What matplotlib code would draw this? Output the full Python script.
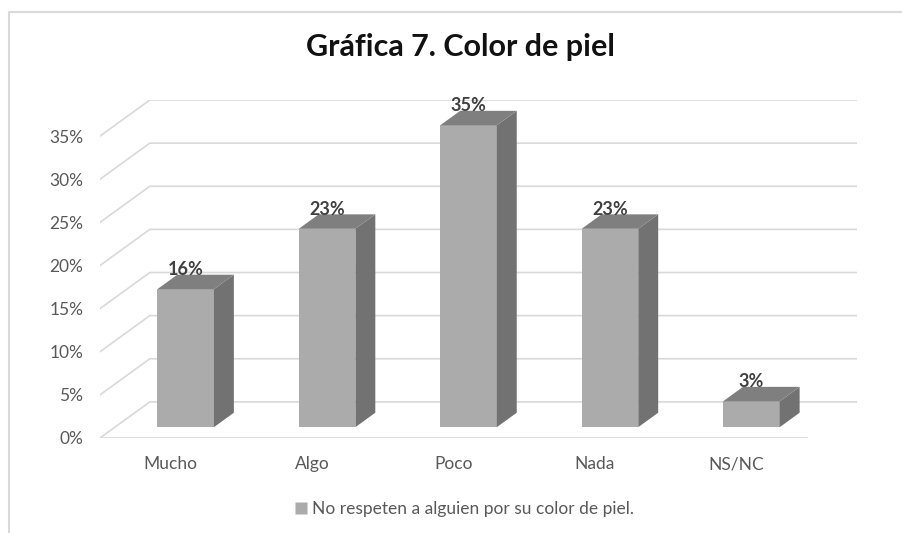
import matplotlib
matplotlib.use("Agg")
import matplotlib.pyplot as plt
from matplotlib.patches import Polygon
from matplotlib.lines import Line2D

# data
categories = ["Mucho", "Algo", "Poco", "Nada", "NS/NC"]
values = [16, 23, 35, 23, 3]
yticks = [0, 5, 10, 15, 20, 25, 30, 35]
series_name = "No respeten a alguien por su color de piel."
title = "Gráfica 7. Color de piel"

plt.rcParams['font.family'] = ['Lato', 'DejaVu Sans']

# oblique "3d" offsets in data units (x in categories, y in percent)
ddx = 50 / 142.0
ddy = 36 / 8.6
f0, f1 = 0.3, 0.7      # depth of the bar inside the floor
bw = 0.4               # bar width

front_col = "#ababab"
top_col = "#7f7f7f"
side_col = "#727272"
grid_col = "#d9d9d9"
text_col = "#595959"

W, H = 903, 533
fig = plt.figure(figsize=(W / 100, H / 100), dpi=100)
ax = fig.add_axes([100 / W, (H - 438) / H, 757 / W, 338 / H])
ax.set_xlim(0, len(categories) + ddx)
ax.set_ylim(0, max(yticks) + ddy)
for s in ax.spines.values():
    s.set_visible(False)

# back wall / floor grid
n = len(categories)
for v in yticks:
    ax.plot([0, ddx, n + ddx], [v, v + ddy, v + ddy], color=grid_col, lw=1.2, zorder=1)
ax.plot([0, n], [0, 0], color=grid_col, lw=1.2, zorder=1)

# bars
d = f1 - f0
for i, v in enumerate(values):
    xl = i + 0.5 - bw / 2 + f0 * ddx
    xr = xl + bw
    yb = f0 * ddy
    yt = yb + v
    ax.add_patch(Polygon([(xl, yb), (xr, yb), (xr, yt), (xl, yt)],
                         closed=True, fc=front_col, ec="none", zorder=3))
    ax.add_patch(Polygon([(xr, yb), (xr + d * ddx, yb + d * ddy),
                          (xr + d * ddx, yt + d * ddy), (xr, yt)],
                         closed=True, fc=side_col, ec="none", zorder=3))
    ax.add_patch(Polygon([(xl, yt), (xr, yt), (xr + d * ddx, yt + d * ddy),
                          (xl + d * ddx, yt + d * ddy)],
                         closed=True, fc=top_col, ec="none", zorder=3))
    ax.text((xl + xr) / 2, yt + d * ddy + 0.6, "%d%%" % v, ha="center", va="center",
            fontsize=13, fontweight="bold", color="#404040", zorder=4)

ax.set_yticks(yticks)
ax.set_yticklabels(["%d%%" % v for v in yticks])
ax.set_xticks([i + 0.5 for i in range(n)])
ax.set_xticklabels(categories)
ax.tick_params(axis="both", length=0, labelsize=12.5, labelcolor=text_col)
ax.tick_params(axis="y", pad=12)
ax.tick_params(axis="x", pad=13)

fig.text(460 / W, 1 - 47 / H, title, ha="center", va="center",
         fontsize=22, fontweight="bold", color="#111111")

# legend
leg = fig.legend(handles=[Line2D([], [], marker="s", ls="none", ms=9,
                                 mfc=front_col, mec="none", label=series_name)],
                 loc="center", bbox_to_anchor=(463 / W, 1 - 509 / H), frameon=False,
                 fontsize=12.5, handletextpad=0.1, handlelength=1.0)
for t in leg.get_texts():
    t.set_color(text_col)

# chart border (top and left visible)
fig.add_artist(Line2D([9 / W, 9 / W, 1], [0, 1 - 12 / H, 1 - 12 / H],
                      transform=fig.transFigure, color="#d9d9d9", lw=1.5))

fig.savefig("out.png", dpi=100, facecolor="white")
